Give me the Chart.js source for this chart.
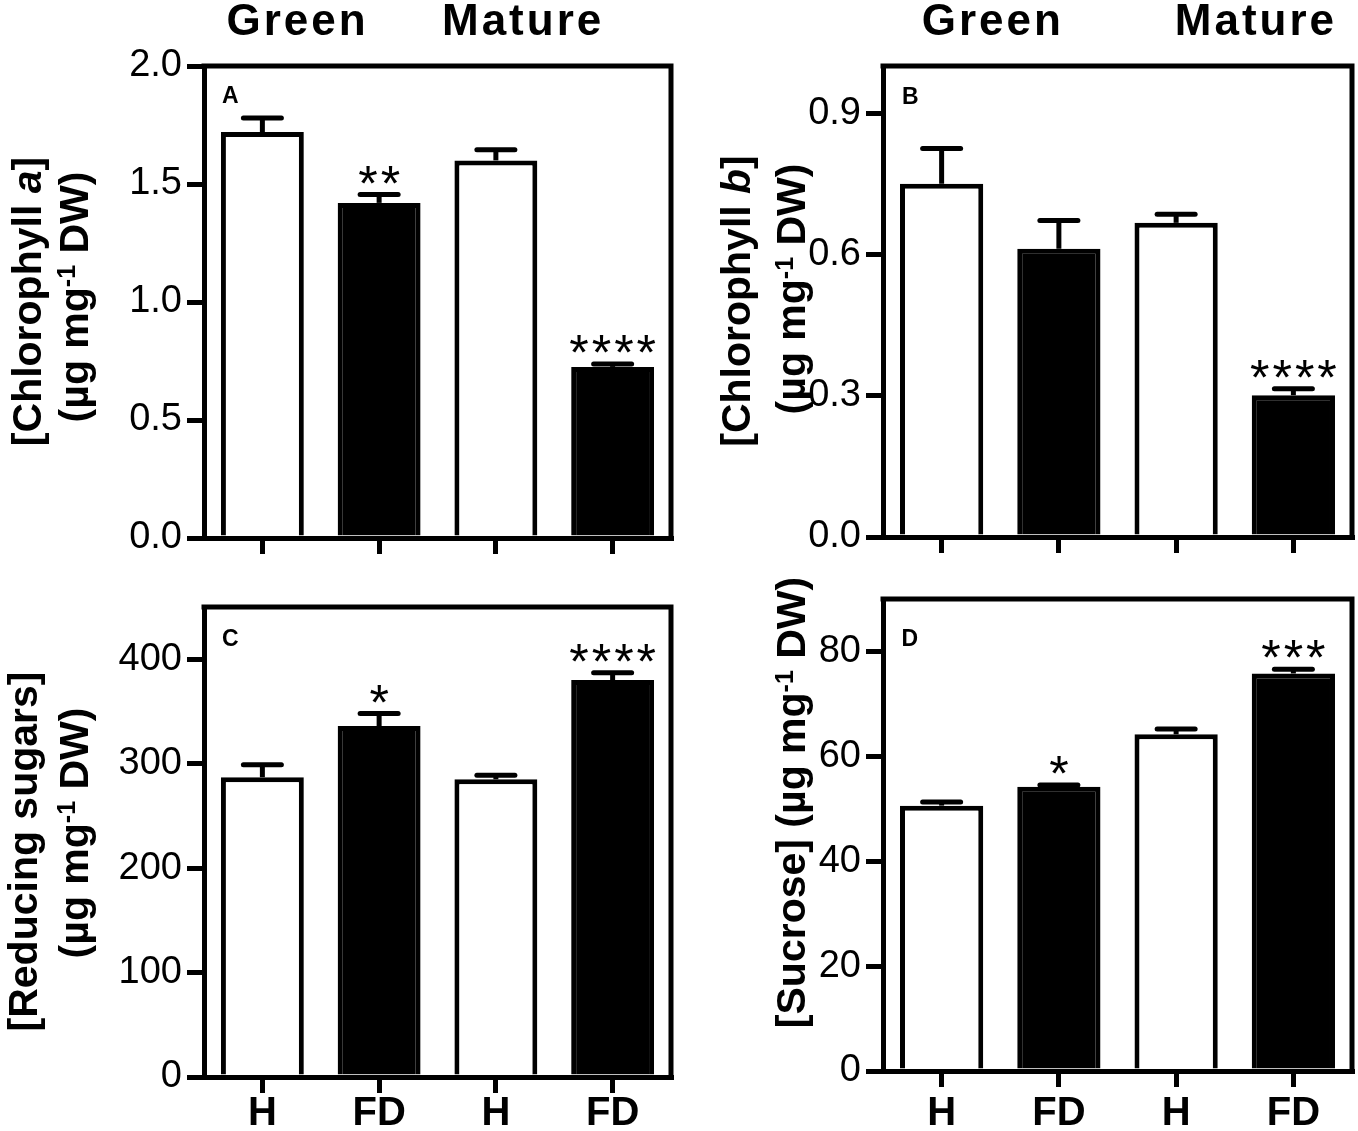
<!DOCTYPE html>
<html>
<head>
<meta charset="utf-8">
<script src="https://cdn.jsdelivr.net/npm/chart.js@4.4.1/dist/chart.umd.min.js"></script>
<style>
html,body{margin:0;padding:0;background:#ffffff;}
#wrap{position:relative;width:1358px;height:1131px;overflow:hidden;background:#ffffff;}
#wrap canvas{position:absolute;left:0;top:0;}
</style>
</head>
<body>
<div id="wrap">
<canvas id="cA" width="1358" height="1131"></canvas>
<canvas id="cB" width="1358" height="1131"></canvas>
<canvas id="cC" width="1358" height="1131"></canvas>
<canvas id="cD" width="1358" height="1131"></canvas>
</div>
<script>
// ---------- data ----------
const categories = ['H', 'FD', 'H', 'FD'];

const chlA    = [1.72, 1.42, 1.60, 0.725];
const chlAErr = [0.06, 0.035, 0.045, 0.012];
const sigA    = ['', '**', '', '****'];
const ticksA  = [0, 0.5, 1.0, 1.5, 2.0];
const maxA    = 2.0;

const chlB    = [0.75, 0.612, 0.667, 0.301];
const chlBErr = [0.075, 0.06, 0.018, 0.014];
const sigB    = ['', '', '', '****'];
const ticksB  = [0, 0.3, 0.6, 0.9];
const maxB    = 1.0;

const sugars    = [287, 336, 285, 380];
const sugarsErr = [12, 12, 4, 7];
const sigC      = ['', '*', '', '****'];
const ticksC    = [0, 100, 200, 300, 400];
const maxC      = 450;

const sucrose    = [50.6, 54.2, 64.2, 75.8];
const sucroseErr = [0.7, 0.35, 1.0, 0.8];
const sigD       = ['', '*', '', '***'];
const ticksD     = [0, 20, 40, 60, 80];
const maxD       = 90;

const groupHeaders = ['Green', 'Mature'];

// ---------- style / layout ----------
const FAM = "'Liberation Sans', Arial, Helvetica, sans-serif";
const W = 1358, H = 1131;
const fillColors = ['#ffffff', '#000000', '#ffffff', '#000000'];
const LW = 5;

const unitSeg = [{t: '(µg mg'}, {t: '-1', sup: true}, {t: ' DW)'}];

const panels = [
  {
    id: 'cA', values: chlA, errors: chlAErr, sig: sigA, ticks: ticksA, max: maxA,
    fmt: v => v.toFixed(1),
    area: {left: 204, right: 671, top: 66, bottom: 538},
    showX: false, xPad: 0,
    letter: {t: 'A', x: 222, y: 103},
    titles: [
      {segs: [{t: '[Chlorophyll '}, {t: 'a', italic: true}, {t: ']'}], x: 41, y: 301.5},
      {segs: unitSeg, x: 87.5, y: 297}
    ],
    headers: [{t: groupHeaders[0], x: 226.5, y: 35}, {t: groupHeaders[1], x: 442, y: 35}]
  },
  {
    id: 'cB', values: chlB, errors: chlBErr, sig: sigB, ticks: ticksB, max: maxB,
    fmt: v => v.toFixed(1),
    area: {left: 883, right: 1352, top: 66, bottom: 537},
    showX: false, xPad: 0,
    letter: {t: 'B', x: 902, y: 104},
    titles: [
      {segs: [{t: '[Chlorophyll '}, {t: 'b', italic: true}, {t: ']'}], x: 750, y: 301},
      {segs: unitSeg, x: 805, y: 289}
    ],
    headers: [{t: groupHeaders[0], x: 921.7, y: 35}, {t: groupHeaders[1], x: 1174.8, y: 35}]
  },
  {
    id: 'cC', values: sugars, errors: sugarsErr, sig: sigC, ticks: ticksC, max: maxC,
    fmt: v => String(v),
    area: {left: 204, right: 671, top: 607, bottom: 1077},
    showX: true, xPad: 1,
    letter: {t: 'C', x: 222, y: 646},
    titles: [
      {segs: [{t: '[Reducing sugars]'}], x: 37, y: 851.5},
      {segs: unitSeg, x: 87.5, y: 833}
    ],
    headers: []
  },
  {
    id: 'cD', values: sucrose, errors: sucroseErr, sig: sigD, ticks: ticksD, max: maxD,
    fmt: v => String(v),
    area: {left: 883, right: 1352, top: 599, bottom: 1071},
    showX: true, xPad: 7,
    letter: {t: 'D', x: 901.5, y: 646},
    titles: [
      {segs: [{t: '[Sucrose] '}].concat(unitSeg), x: 805, y: 802.5}
    ],
    headers: []
  }
];

function segFont(s, size) {
  const sz = s.sup ? Math.round(size * 0.6) : size;
  return (s.italic ? 'italic ' : '') + 'bold ' + sz + 'px ' + FAM;
}

function drawRotatedRich(ctx, segs, baseX, centerY, size) {
  ctx.save();
  ctx.translate(baseX, centerY);
  ctx.rotate(-Math.PI / 2);
  ctx.textBaseline = 'alphabetic';
  ctx.textAlign = 'left';
  ctx.fillStyle = '#000';
  let total = 0;
  const widths = segs.map(s => { ctx.font = segFont(s, size); const w = ctx.measureText(s.t).width; total += w; return w; });
  let x = -total / 2;
  segs.forEach((s, i) => {
    ctx.font = segFont(s, size);
    ctx.fillText(s.t, x, s.sup ? -size * 0.3 : 0);
    x += widths[i];
  });
  ctx.restore();
}

function makePanelPlugin(p) {
  return {
    id: 'panelDecor_' + p.id,
    afterDatasetsDraw(chart) {
      const ctx = chart.ctx;
      const meta = chart.getDatasetMeta(0);
      const ds = chart.data.datasets[0];
      const ys = chart.scales.y;
      ctx.save();
      ctx.strokeStyle = '#000';
      ctx.fillStyle = '#000';
      ctx.lineWidth = LW;
      meta.data.forEach((bar, i) => {
        const topY = ys.getPixelForValue(ds.data[i]);
        const capY = ys.getPixelForValue(ds.data[i] + ds.errors[i]);
        ctx.lineCap = 'butt';
        ctx.beginPath();
        ctx.moveTo(bar.x, topY);
        ctx.lineTo(bar.x, capY);
        ctx.stroke();
        ctx.lineCap = 'round';
        ctx.beginPath();
        ctx.moveTo(bar.x - 19, capY);
        ctx.lineTo(bar.x + 19, capY);
        ctx.stroke();
        if (ds.sig[i]) {
          ctx.font = '50px ' + FAM;
          ctx.textAlign = 'center';
          ctx.textBaseline = 'alphabetic';
          try { ctx.letterSpacing = '3px'; } catch (e) {}
          ctx.fillText(ds.sig[i], bar.x + 1.5, capY + 6);
          try { ctx.letterSpacing = '0px'; } catch (e) {}
        }
      });
      ctx.restore();
    },
    afterDraw(chart) {
      const ctx = chart.ctx;
      const a = chart.chartArea;
      ctx.save();
      // frame (top and right sides)
      ctx.strokeStyle = '#000';
      ctx.lineWidth = LW;
      ctx.lineCap = 'butt';
      ctx.lineJoin = 'miter';
      ctx.beginPath();
      ctx.moveTo(a.left - LW / 2, a.top);
      ctx.lineTo(a.right, a.top);
      ctx.lineTo(a.right, a.bottom + LW / 2);
      ctx.stroke();
      // panel letter
      ctx.fillStyle = '#000';
      ctx.font = 'bold 23px ' + FAM;
      ctx.textAlign = 'left';
      ctx.textBaseline = 'alphabetic';
      ctx.fillText(p.letter.t, p.letter.x, p.letter.y);
      // group headers
      ctx.font = 'bold 44px ' + FAM;
      try { ctx.letterSpacing = '3px'; } catch (e) {}
      p.headers.forEach(h => ctx.fillText(h.t, h.x, h.y));
      try { ctx.letterSpacing = '0px'; } catch (e) {}
      ctx.restore();
      // y-axis titles
      p.titles.forEach(t => drawRotatedRich(ctx, t.segs, t.x, t.y, 41));
    }
  };
}

function makeChart(p) {
  const el = document.getElementById(p.id);
  return new Chart(el, {
    type: 'bar',
    data: {
      labels: categories,
      datasets: [{
        data: p.values,
        errors: p.errors,
        sig: p.sig,
        backgroundColor: fillColors,
        borderColor: '#000000',
        borderWidth: LW,
        borderSkipped: 'start',
        barPercentage: 0.71,
        categoryPercentage: 1.0
      }]
    },
    options: {
      responsive: false,
      animation: false,
      devicePixelRatio: 1,
      layout: {padding: {left: 0, top: p.area.top, right: W - p.area.right, bottom: 0}},
      plugins: {legend: {display: false}, tooltip: {enabled: false}, title: {display: false}},
      scales: {
        x: {
          type: 'category',
          offset: true,
          grid: {display: true, offset: false, drawOnChartArea: false, drawTicks: true, tickLength: 16, lineWidth: LW, color: '#000'},
          border: {display: true, width: LW, color: '#000'},
          ticks: {
            display: p.showX, color: '#000', padding: p.xPad, maxRotation: 0, autoSkip: false,
            font: {family: FAM, size: 40, weight: 'bold', lineHeight: 1}
          },
          afterFit: s => { s.height = H - p.area.bottom; }
        },
        y: {
          min: 0,
          max: p.max,
          afterBuildTicks: s => { s.ticks = p.ticks.map(v => ({value: v})); },
          grid: {display: true, drawOnChartArea: false, drawTicks: true, tickLength: 17, lineWidth: LW, color: '#000'},
          border: {display: true, width: LW, color: '#000'},
          ticks: {
            color: '#000', padding: 5,
            font: {family: FAM, size: 38},
            callback: v => p.fmt(v)
          },
          afterFit: s => { s.width = p.area.left; }
        }
      }
    },
    plugins: [makePanelPlugin(p)]
  });
}

panels.forEach(makeChart);
</script>
</body>
</html>
